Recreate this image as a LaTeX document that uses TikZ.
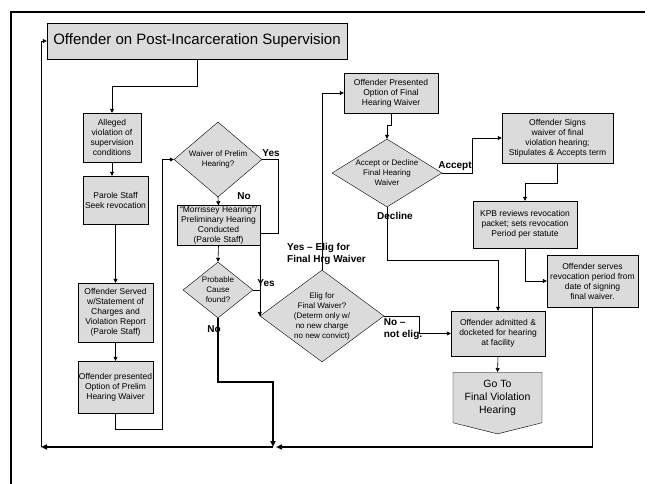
\documentclass[tikz,border=0pt]{standalone}
\usepackage{fontspec}
\setmainfont{Liberation Sans}
\usetikzlibrary{arrows.meta,shapes.geometric,shapes.symbols}
\tikzset{
  stepbox/.style={draw, fill=gray!28, align=center, inner sep=1pt, font=\fontsize{8.5}{10}\selectfont},
  decisionbox/.style={draw, diamond, fill=gray!28, inner sep=0pt},
  dtext/.style={align=center, inner sep=0pt, font=\fontsize{8}{10}\selectfont},
  tag/.style={align=left, inner sep=0pt, font=\fontsize{10}{12}\selectfont\bfseries},
  smalltag/.style={inner sep=0pt, font=\fontsize{9.5}{11}\selectfont},
  arrow/.style={-{Triangle[length=4pt,width=4pt]}, semithick},
  line/.style={semithick},
  heavy/.style={-{Triangle[length=6pt,width=5pt]}, line width=1.8pt}
}

\begin{document}
\begin{tikzpicture}[x=1pt, y=-1pt]
  \useasboundingbox (0,0) rectangle (649,484);
  % frame
  \draw[line width=1.2pt] (11,484) -- (11,12) -- (645,12);

  % left column
  \node[stepbox, minimum width=300, minimum height=36, font=\fontsize{15}{18}\selectfont] (title) at (197,41) {Offender on Post-Incarceration Supervision};
  \node[stepbox, minimum width=58, minimum height=49] (alleged) at (112,137.5) {Alleged\\violation of\\supervision\\conditions};
  \node[stepbox, minimum width=65, minimum height=48] (parole) at (115.5,200) {Parole Staff\\Seek revocation};
  \node[stepbox, minimum width=75, minimum height=59] (served) at (115.5,312.5) {Offender Served\\w/Statement of\\Charges and\\Violation Report\\(Parole Staff)};
  \node[stepbox, minimum width=75, minimum height=52] (presented) at (115.5,387) {Offender presented\\Option of Prelim\\Hearing Waiver};

  % middle column
  \node[decisionbox, minimum width=88, minimum height=75, label={[dtext]center:Waiver of Prelim\\Hearing?}] (waiver) at (218,159.5) {};
  \node[stepbox, minimum width=83, minimum height=39] (morrissey) at (218.5,225.5) {``Morrissey Hearing''/\\Preliminary Hearing\\Conducted\\(Parole Staff)};
  \node[decisionbox, minimum width=70, minimum height=56, label={[dtext]center:Probable\\Cause\\found?}] (probable) at (218,290) {};
  \node[decisionbox, minimum width=124, minimum height=92, label={[dtext]center:Elig for\\Final Waiver?\\(Determ only w/\\no new charge\\no new convict)}] (elig) at (322,316) {};

  % right part
  \node[stepbox, minimum width=94, minimum height=40] (finaloption) at (391,93) {Offender Presented\\Option of Final\\Hearing Waiver};
  \node[decisionbox, minimum width=110, minimum height=68, label={[dtext]center:Accept or Decline\\Final Hearing\\Waiver}] (accept) at (387,173) {};
  \node[stepbox, minimum width=111, minimum height=50] (signs) at (557.5,138) {Offender Signs\\waiver of final\\violation hearing;\\Stipulates \& Accepts term};
  \node[stepbox, minimum width=104, minimum height=47] (kpb) at (525,224.5) {KPB reviews revocation\\packet; sets revocation\\Period per statute};
  \node[stepbox, minimum width=91, minimum height=52] (serves) at (592.5,281) {Offender serves\\revocation period from\\date of signing\\final waiver.};
  \node[stepbox, minimum width=94, minimum height=45] (docket) at (498,333.5) {Offender admitted \&\\docketed for hearing\\at facility};
  \node[stepbox, signal, signal to=south, signal pointer angle=152, minimum width=89, minimum height=59, font=\fontsize{10.5}{13}\selectfont] (goto) at (497.5,397.5) {Go To\\Final Violation\\Hearing};

  \coordinate (loopjoin) at (273,447);
  \coordinate (loopcorner) at (41,447);

  % connectors
  \draw[arrow] (title.south) -- ++(0,27) -| (alleged.north);
  \draw[arrow] (alleged.south) -- (alleged.south |- parole.north);
  \draw[arrow] (parole.south) -- (parole.south |- served.north);
  \draw[arrow] (served.south) -- (presented.north);
  \draw[arrow] (presented.south) -- ++(0,16) -- ++(47,0) |- (waiver.west);
  \draw[arrow] (waiver.south) -- (morrissey.north);
  \draw[arrow] (waiver.east) -- ++(16,0) -- ++(0,74) -| (elig.west);
  \draw[arrow] (morrissey.south) -- (probable.north);
  \draw[line] (probable.east) -| (elig.west);
  \draw[heavy] (probable.south) -- ++(0,64) -| (loopjoin);
  \draw[heavy, shorten >=3pt] (serves.south) |- (loopjoin);
  \draw[heavy] (loopjoin) -- (loopcorner);
  \draw[arrow, thick] (loopcorner) |- (title.west);
  \draw[arrow] (elig.north) |- (finaloption.west);
  \draw[arrow] (finaloption.south) -- ++(0,12) -| (accept.north);
  \draw[arrow] (accept.east) -- ++(30,0) |- (signs.west);
  \draw[arrow] (accept.south) -- ++(0,53) -| (docket.north);
  \draw[arrow] (signs.south) -- ++(0,20) -| (kpb.north);
  \draw[arrow] (kpb.south) |- (serves.west);
  \draw[arrow] (elig.east) -- ++(35,0) |- (docket.west);
  \draw[arrow] (docket.south) -- (goto.north);

  % connector labels
  \node[tag] (nolbl) at (244,196) {No};
  \node[tag] (yeswaiver) at (271,153) {Yes};
  \node[tag] (yesprob) at (266,283) {Yes};
  \node[tag] (noprob) at (214,329) {No};
  \node[tag] (yeselig) at (326.5,253.5) {Yes -- Elig for\\Final Hrg Waiver};
  \node[tag] (acceptlbl) at (455,166) {Accept};
  \node[tag] (declinelbl) at (395,216) {Decline};
  \node[tag] (notelig) at (403,329) {No --\\not elig.};
\end{tikzpicture}
\end{document}
